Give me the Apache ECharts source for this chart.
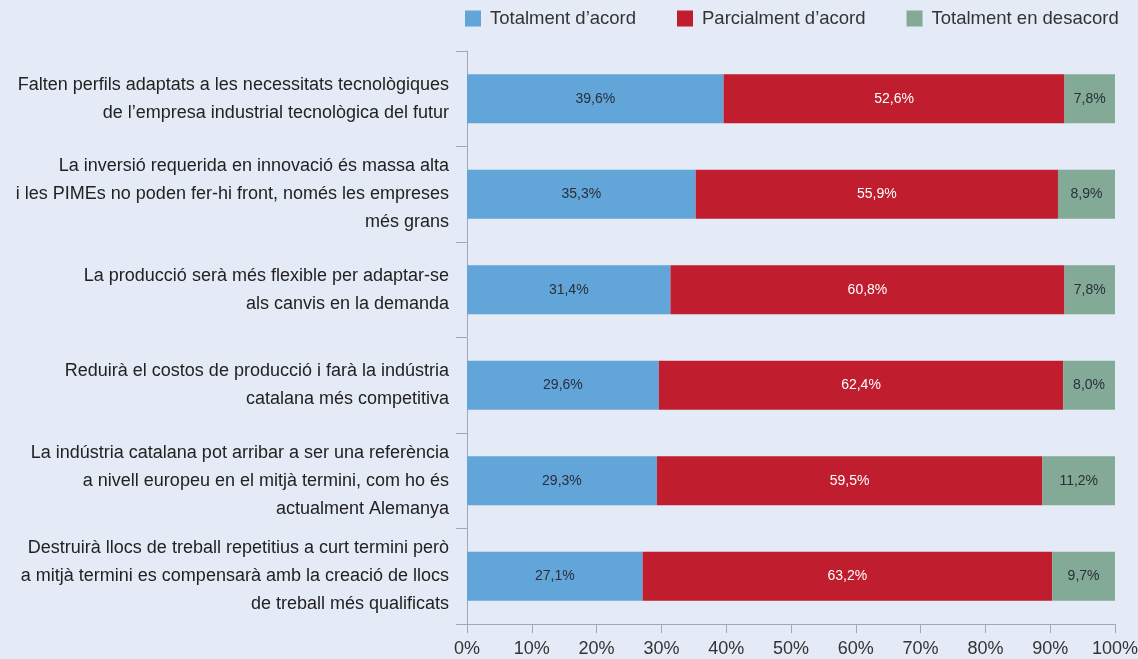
<!DOCTYPE html>
<html><head><meta charset="utf-8">
<script src="https://cdn.jsdelivr.net/npm/echarts@6/dist/echarts.min.js"></script>
<style>html,body{margin:0;padding:0;background:#e4eaf6;}#c{width:1138px;height:659px;}</style>
</head><body><div id="c"></div>
<script>
const categories = [
  "Falten perfils adaptats a les necessitats tecnològiques\nde l’empresa industrial tecnològica del futur",
  "La inversió requerida en innovació és massa alta\ni les PIMEs no poden fer-hi front, només les empreses\nmés grans",
  "La producció serà més flexible per adaptar-se\nals canvis en la demanda",
  "Reduirà el costos de producció i farà la indústria\ncatalana més competitiva",
  "La indústria catalana pot arribar a ser una referència\na nivell europeu en el mitjà termini, com ho és\nactualment Alemanya",
  "Destruirà llocs de treball repetitius a curt termini però\na mitjà termini es compensarà amb la creació de llocs\nde treball més qualificats"
];
const seriesNames = ["Totalment d’acord", "Parcialment d’acord", "Totalment en desacord"];
const totalmentAcord = [39.6, 35.3, 31.4, 29.6, 29.3, 27.1];
const parcialmentAcord = [52.6, 55.9, 60.8, 62.4, 59.5, 63.2];
const totalmentDesacord = [7.8, 8.9, 7.8, 8.0, 11.2, 9.7];
const xTicks = [0, 10, 20, 30, 40, 50, 60, 70, 80, 90, 100];

const FONT = '"Liberation Sans", Arial, sans-serif';
const colors = ['#62a5d8', '#c01d2e', '#82aa96'];
const labelColors = ['#2a2f3a', '#ffffff', '#2a2f3a'];
const values = [totalmentAcord, parcialmentAcord, totalmentDesacord];

const chart = echarts.init(document.getElementById('c'));
chart.setOption({
  backgroundColor: '#e4eaf6',
  animation: false,
  textStyle: { fontFamily: FONT },
  legend: {
    top: 4, left: 460, width: 700, itemGap: 41, itemWidth: 16, itemHeight: 16,
    icon: 'rect',
    textStyle: { fontFamily: FONT, fontSize: 18.5, color: '#333', padding: [0, 0, 0, 4] },
    data: seriesNames
  },
  grid: { left: 467, right: 23, top: 51, bottom: 35, containLabel: false, outerBoundsMode: 'none' },
  xAxis: {
    type: 'value', min: 0, max: 100, interval: 10,
    axisLine: { show: true, lineStyle: { color: '#a4a8b4', width: 1 } },
    axisTick: { show: true, length: 9, lineStyle: { color: '#a4a8b4' } },
    splitLine: { show: false },
    axisLabel: { fontFamily: FONT, fontSize: 18, color: '#333', margin: 16,
      formatter: v => xTicks.includes(v) ? v + '%' : '' }
  },
  yAxis: {
    type: 'category', inverse: true, data: categories,
    axisLine: { show: true, lineStyle: { color: '#a4a8b4' } },
    axisTick: { show: true, length: 11, lineStyle: { color: '#a4a8b4' } },
    axisLabel: { fontFamily: FONT, fontSize: 18, color: '#222', lineHeight: 28, margin: 18, align: 'right' }
  },
  series: seriesNames.map((n, i) => ({
    name: n, type: 'bar', stack: 'total', barWidth: 49,
    data: values[i],
    itemStyle: { color: colors[i] },
    label: { show: true, position: 'inside', fontFamily: FONT, fontSize: 14, color: labelColors[i],
      formatter: p => p.value.toFixed(1).replace('.', ',') + '%' }
  }))
});
</script></body></html>
